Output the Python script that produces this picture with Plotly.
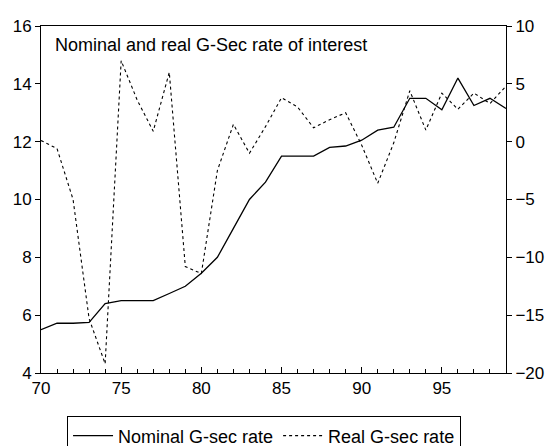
import plotly.graph_objects as go

years = list(range(70, 100))
nominal = [5.5, 5.72, 5.72, 5.75, 6.4, 6.5, 6.5, 6.5, 6.75, 7.0,
           7.45, 8.0, 9.0, 10.0, 10.6, 11.5, 11.5, 11.5, 11.8, 11.85,
           12.05, 12.4, 12.5, 13.5, 13.5, 13.1, 14.2, 13.25, 13.5, 13.15]
real = [0.1, -0.6, -5.0, -15.3, -19.2, 7.0, 3.6, 0.9, 6.0, -10.8,
        -11.4, -2.5, 1.5, -1.0, 1.3, 3.8, 3.0, 1.2, 1.9, 2.5,
        -0.3, -3.6, -0.1, 4.4, 1.0, 4.2, 2.8, 4.2, 3.3, 4.8]
x_ticks = [70, 75, 80, 85, 90, 95]
left_ticks = [4, 6, 8, 10, 12, 14, 16]
right_ticks = [-20, -15, -10, -5, 0, 5, 10]

FONT = "Liberation Sans, Arial, sans-serif"

fig = go.Figure()
fig.add_trace(go.Scatter(x=years, y=nominal, mode="lines", name="Nominal G-sec rate",
                         line=dict(color="black", width=1.3), yaxis="y"))
fig.add_trace(go.Scatter(x=years, y=real, mode="lines", name="Real G-sec rate",
                         line=dict(color="black", width=1.1, dash="3px,3px"), yaxis="y2"))

fig.update_layout(
    width=549, height=446,
    margin=dict(l=41, r=43, t=26, b=73, autoexpand=False),
    paper_bgcolor="white", plot_bgcolor="white",
    font=dict(family=FONT, size=17, color="black"),
    showlegend=True,
    legend=dict(orientation="h", x=0.056, y=-0.125, xanchor="left", yanchor="top",
                bordercolor="black", borderwidth=1, font=dict(size=18),
                itemwidth=40, tracegroupgap=0),
    xaxis=dict(range=[70, 99], tickvals=x_ticks, ticktext=[str(v) for v in x_ticks],
               showline=True, linecolor="black", linewidth=1, mirror=True,
               ticks="inside", ticklen=6, tickcolor="black",
               minor=dict(dtick=1, ticks="inside", ticklen=4, tickcolor="black"),
               showgrid=False, zeroline=False, tickfont=dict(size=17)),
    yaxis=dict(range=[4, 16], tickvals=left_ticks, showline=True, linecolor="black",
               linewidth=1, ticks="outside", ticklen=5, tickcolor="black",
               showgrid=False, zeroline=False, tickfont=dict(size=17)),
    yaxis2=dict(range=[-20, 10], tickvals=right_ticks, overlaying="y", side="right",
                showline=True, linecolor="black", linewidth=1, ticks="outside",
                ticklen=5, tickcolor="black", showgrid=False, zeroline=False,
                tickfont=dict(size=17)),
    annotations=[dict(text="Nominal and real G-Sec rate of interest", xref="paper", yref="paper",
                      x=0.026, y=0.945, xanchor="left", yanchor="middle", showarrow=False,
                      font=dict(size=18, family=FONT))],
)

fig.write_html("out.html")
